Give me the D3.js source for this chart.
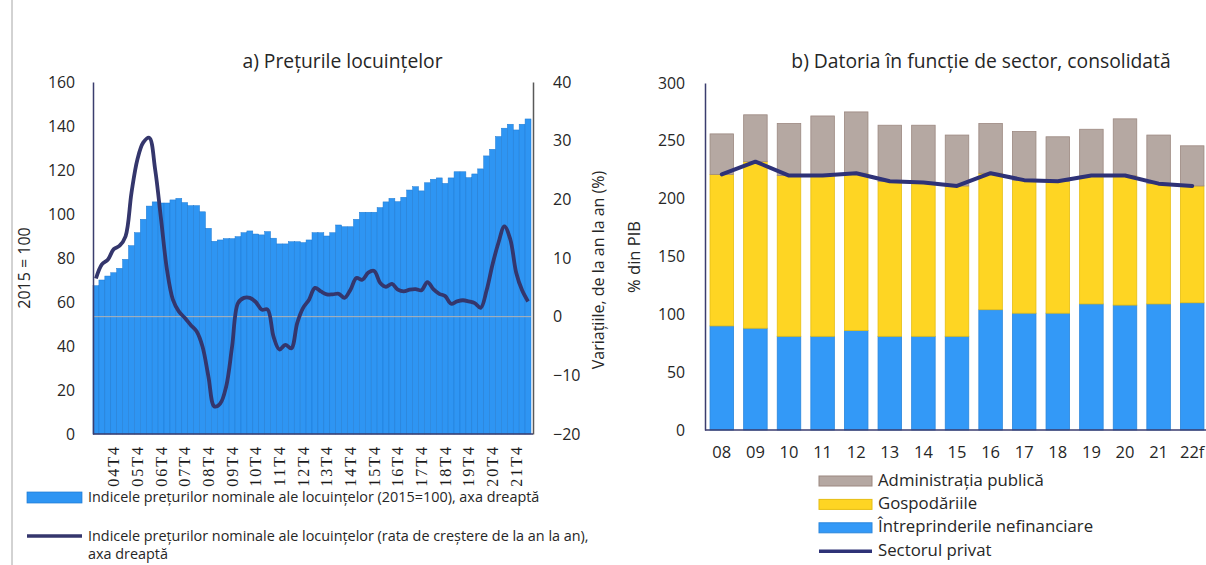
<!DOCTYPE html>
<html>
<head>
<meta charset="utf-8">
<script src="https://cdn.jsdelivr.net/npm/d3@7"></script>
<style>
  body { margin: 0; background: #fff; }
  svg { display: block; font-family: "Open Sans", sans-serif; }
</style>
</head>
<body>
<svg id="chart" width="1206" height="565"></svg>
<script>
// a) quarterly house price index, 2004T1 .. 2022T2
var firstYear = 2004, lastYear = 2022, lastQuarter = 2;
var quarterTicks = ["04T4", "05T4", "06T4", "07T4", "08T4", "09T4", "10T4", "11T4", "12T4",
    "13T4", "14T4", "15T4", "16T4", "17T4", "18T4", "19T4", "20T4", "21T4"];
var priceIndex = [
    67.4, 70, 71.8, 73.3, 75.3, 79.4, 85.6, 91.5, 97.6, 103.6,
    105.5, 105, 105, 106.4, 107.1, 105.2, 103.8, 103.8, 101, 93.5,
    87.6, 88.2, 88.8, 88.8, 89.7, 91.5, 92.3, 90.9, 90.5, 92,
    89, 86.4, 86.4, 87.4, 87.4, 87, 88.2, 91.5, 91.5, 90,
    91.5, 95, 94.2, 94.2, 97.6, 100.8, 100.8, 100.8, 102.9, 105.5,
    107.1, 105.6, 107.6, 110.9, 112.4, 110.5, 114.2, 115.8, 116.4, 113.9,
    116.4, 119.2, 119.2, 116.5, 118.2, 120.5, 126.4, 129.4, 135.2, 139,
    140.8, 138.2, 140.8, 143.2];
var priceGrowth = [
    6.5, 8.9, 9.7, 11.5, 12.1, 13.7, 21.1, 26.8, 29.7, 30.5,
    25.1, 16.6, 8, 2.9, 0.9, -0.2, -1.4, -2.5, -5.1, -10.2,
    -15.3, -14.8, -11.9, -5.1, 2.3, 3.2, 3.2, 2.5, 1.2, 1.2,
    -3.4, -5.6, -4.8, -5.4, -1.1, 1.5, 2.9, 4.9, 4.3, 3.8,
    3.8, 3.9, 3.2, 4.6, 6.6, 6.3, 7.5, 7.8, 5.8, 5.1,
    5.6, 4.6, 4.3, 4.6, 4.7, 4.5, 5.9, 4.7, 3.9, 3.5,
    2.2, 2.6, 2.8, 2.6, 2.3, 1.5, 4.5, 8.9, 12.6, 15.4,
    13.2, 7.5, 4.5, 2.6];
var leftTicks = [0, 20, 40, 60, 80, 100, 120, 140, 160];
var rightTicks = [-20, -10, 0, 10, 20, 30, 40];

// b) consolidated debt by sector, % of GDP
var years = ["08", "09", "10", "11", "12", "13", "14", "15", "16", "17", "18", "19", "20", "21", "22f"];
var firme = [90, 88, 81, 81, 86, 81, 81, 81, 104, 101, 101, 109, 108, 109, 110];
var gospodarii = [131, 144, 139, 139, 136, 134, 133, 130, 118, 115, 114, 111, 112, 104, 101];
var adminPublica = [35, 40.5, 45, 51.5, 53, 48.5, 49.5, 44, 43, 42, 38.5, 40, 49, 42, 34.7];
var sectorPrivat = [221, 232, 220, 220, 222, 215, 214, 211, 222, 216, 215, 220, 220, 213, 211];
var debtTicks = [0, 50, 100, 150, 200, 250, 300];

var svg = d3.select("#chart");
var textColor = "#262626";

var quarters = [];
for (var y = firstYear; y <= lastYear; y++) {
    for (var q = 1; q <= 4; q++) {
        if (y == lastYear && q > lastQuarter) break;
        quarters.push(String(y).slice(2) + "T" + q);
    }
}

// frame line on the left
svg.append("line")
    .attr("x1", 12).attr("x2", 12)
    .attr("y1", 0).attr("y2", 565)
    .attr("stroke", "#a6a6a6");

// ---------- chart a ----------
var xA = d3.scaleBand().domain(quarters).range([93, 531]).padding(0);
var yA = d3.scaleLinear().domain([0, 160]).range([434, 82]);
var yA2 = d3.scaleLinear().domain([-20, 40]).range([434, 82]);

svg.append("text")
    .attr("x", 342.5).attr("y", 63)
    .attr("text-anchor", "middle").attr("dominant-baseline", "middle")
    .attr("font-size", "19.3px").attr("fill", textColor)
    .text("a) Prețurile locuințelor");

svg.append("g").selectAll("rect")
    .data(priceIndex)
    .join("rect")
    .attr("x", function(d, i) { return xA(quarters[i]); })
    .attr("y", function(d) { return yA(d); })
    .attr("width", xA.bandwidth())
    .attr("height", function(d) { return yA(0) - yA(d); })
    .attr("fill", "#2e95f3")
    .attr("stroke", "#1e7ad2")
    .attr("stroke-width", 0.5);

svg.append("line")
    .attr("x1", 93).attr("x2", 531)
    .attr("y1", yA2(0)).attr("y2", yA2(0))
    .attr("stroke", "#b4b4b4").attr("stroke-width", 1);

var growthLine = d3.line()
    .x(function(d, i) { return xA(quarters[i]) + xA.bandwidth() / 2; })
    .y(function(d) { return yA2(d); })
    .curve(d3.curveCatmullRom.alpha(0.5));

svg.append("path")
    .datum(priceGrowth)
    .attr("d", growthLine)
    .attr("fill", "none")
    .attr("stroke", "#34366c")
    .attr("stroke-width", 3.8)
    .attr("stroke-linejoin", "round");

var axA = svg.append("g")
    .attr("transform", "translate(93,0)")
    .call(d3.axisLeft(yA).tickValues(leftTicks).tickSize(0).tickSizeOuter(0).tickPadding(18));
var axA2 = svg.append("g")
    .attr("transform", "translate(533,0)")
    .call(d3.axisRight(yA2).tickValues(rightTicks).tickSize(0).tickSizeOuter(0).tickPadding(20));
var axAx = svg.append("g")
    .attr("transform", "translate(0,434)")
    .call(d3.axisBottom(xA).tickValues(quarterTicks).tickSize(0).tickSizeOuter(0));

axA.select(".domain").attr("stroke", "#3b3d6e").attr("stroke-width", 1.5);
axA2.select(".domain").attr("stroke", "#595959").attr("stroke-width", 1.5);
axAx.select(".domain").attr("stroke", "#3b3d6e").attr("stroke-width", 1.5)
    .attr("d", "M93,0H533");
axA.selectAll("text").attr("font-size", "15.8px").attr("fill", textColor).attr("font-family", "Open Sans");
axA2.selectAll("text").attr("font-size", "16px").attr("fill", textColor).attr("font-family", "Open Sans");
axAx.selectAll("text")
    .attr("transform", "rotate(-90)")
    .attr("x", -11).attr("y", 0).attr("dy", "0.35em")
    .attr("text-anchor", "end")
    .attr("font-family", "Liberation Serif")
    .attr("font-size", "16px")
    .attr("letter-spacing", "2px")
    .attr("fill", "#1a1a1a");

svg.append("text")
    .attr("transform", "translate(26,268) rotate(-90)")
    .attr("text-anchor", "middle").attr("dominant-baseline", "middle")
    .attr("font-size", "16px").attr("fill", textColor)
    .text("2015 = 100");
svg.append("text")
    .attr("transform", "translate(600,270) rotate(-90)")
    .attr("text-anchor", "middle").attr("dominant-baseline", "middle")
    .attr("font-size", "16px").attr("fill", textColor)
    .text("Variațiile, de la an la an (%)");

// legend a
var legA = svg.append("g").attr("font-size", "14.4px").attr("fill", textColor);
legA.append("rect")
    .attr("x", 27).attr("y", 492).attr("width", 55).attr("height", 11)
    .attr("fill", "#2e95f3").attr("stroke", "#1e7ad2").attr("stroke-width", 0.7);
legA.append("text")
    .attr("x", 88).attr("y", 498).attr("dominant-baseline", "middle")
    .text("Indicele prețurilor nominale ale locuințelor (2015=100), axa dreaptă");
legA.append("line")
    .attr("x1", 27).attr("x2", 82).attr("y1", 536).attr("y2", 536)
    .attr("stroke", "#34366c").attr("stroke-width", 3.5);
legA.append("text")
    .attr("x", 88).attr("y", 537).attr("dominant-baseline", "middle")
    .text("Indicele prețurilor nominale ale locuințelor (rata de creștere de la an la an),");
legA.append("text")
    .attr("x", 88).attr("y", 555).attr("dominant-baseline", "middle")
    .text("axa dreaptă");

// ---------- chart b ----------
var xB = d3.scaleBand().domain(years).range([705, 1209]).paddingInner(0.3).paddingOuter(0.15);
var yB = d3.scaleLinear().domain([0, 300]).range([430, 83]);

svg.append("text")
    .attr("x", 981).attr("y", 63)
    .attr("text-anchor", "middle").attr("dominant-baseline", "middle")
    .attr("font-size", "19.3px").attr("fill", textColor)
    .text("b) Datoria în funcție de sector, consolidată");

var rows = years.map(function(yr, i) {
    return { an: yr, firme: firme[i], gosp: gospodarii[i], admin: adminPublica[i] };
});
var keys = ["firme", "gosp", "admin"];
var fills = { firme: "#3399f7", gosp: "#fed523", admin: "#b5a8a2" };
var strokes = { firme: "#2a86dc", gosp: "#e6bd12", admin: "#9c8880" };
var stacked = d3.stack().keys(keys)(rows);

svg.append("g").selectAll("g")
    .data(stacked)
    .join("g")
    .attr("fill", function(s) { return fills[s.key]; })
    .attr("stroke", function(s) { return strokes[s.key]; })
    .attr("stroke-width", 0.8)
    .selectAll("rect")
    .data(function(s) { return s; })
    .join("rect")
    .attr("x", function(d) { return xB(d.data.an); })
    .attr("y", function(d) { return yB(d[1]); })
    .attr("width", xB.bandwidth())
    .attr("height", function(d) { return yB(d[0]) - yB(d[1]); });

var privLine = d3.line()
    .x(function(d, i) { return xB(years[i]) + xB.bandwidth() / 2; })
    .y(function(d) { return yB(d); });

svg.append("path")
    .datum(sectorPrivat)
    .attr("d", privLine)
    .attr("fill", "none")
    .attr("stroke", "#2e3277")
    .attr("stroke-width", 4)
    .attr("stroke-linejoin", "round")
    .attr("stroke-linecap", "round");

var axB = svg.append("g")
    .attr("transform", "translate(705,0)")
    .call(d3.axisLeft(yB).tickValues(debtTicks).tickSize(0).tickSizeOuter(0).tickPadding(20));
var axBx = svg.append("g")
    .attr("transform", "translate(0,430)")
    .call(d3.axisBottom(xB).tickSize(0).tickSizeOuter(0).tickPadding(16));

axB.select(".domain").attr("stroke", "#3b3d6e").attr("stroke-width", 1.5);
axBx.select(".domain").attr("stroke", "#3b3d6e").attr("stroke-width", 1.5).attr("d", "M705,0H1206");
axB.selectAll("text").attr("font-size", "15.8px").attr("fill", textColor).attr("font-family", "Open Sans");
axBx.selectAll("text").attr("font-size", "16.5px").attr("fill", textColor).attr("font-family", "Open Sans");

svg.append("text")
    .attr("transform", "translate(636,257) rotate(-90)")
    .attr("text-anchor", "middle").attr("dominant-baseline", "middle")
    .attr("font-size", "16.5px").attr("fill", textColor)
    .text("% din PIB");

// legend b
var legItems = [
    { label: "Administrația publică", key: "admin" },
    { label: "Gospodăriile", key: "gosp" },
    { label: "Întreprinderile nefinanciare", key: "firme" },
    { label: "Sectorul privat", key: "line" }
];
var legB = svg.append("g").attr("font-size", "16.8px").attr("fill", textColor);
legItems.forEach(function(it, i) {
    var cy = 481 + i * 23.4;
    if (it.key == "line") {
        legB.append("line")
            .attr("x1", 819).attr("x2", 872).attr("y1", cy).attr("y2", cy)
            .attr("stroke", "#2e3277").attr("stroke-width", 3.5);
    } else {
        legB.append("rect")
            .attr("x", 819).attr("y", cy - 5).attr("width", 53).attr("height", 10)
            .attr("fill", fills[it.key]).attr("stroke", strokes[it.key]).attr("stroke-width", 1);
    }
    legB.append("text")
        .attr("x", 878).attr("y", cy).attr("dominant-baseline", "middle")
        .text(it.label);
});
</script>
</body>
</html>
